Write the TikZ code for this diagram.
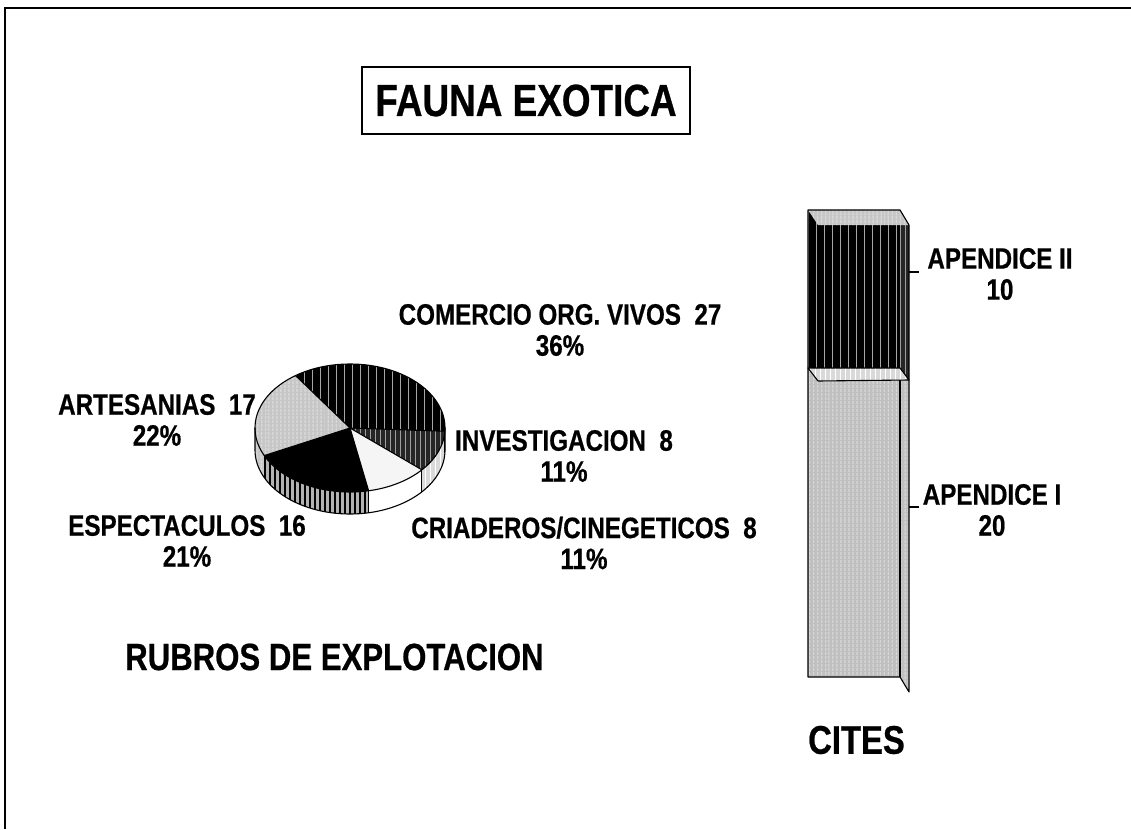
\documentclass[tikz,border=0pt]{standalone}
\usepackage{fontspec}
\newfontfamily\nf{Liberation Sans}[FakeStretch=0.82,FakeBold=0.6]
\usetikzlibrary{patterns.meta}
\begin{document}
\begin{tikzpicture}[x=1pt,y=-1pt,
  lbl/.style={font=\nf\bfseries\fontsize{29.5}{31}\selectfont, align=center, inner sep=0pt},
  big/.style={font=\nf\bfseries\fontsize{38}{42}\selectfont, inner sep=0pt},
  dkA/.style={preaction={fill=black}, pattern={Lines[angle=90,distance=8pt,line width=0.9pt]}, pattern color=gray!70},
  dkB/.style={preaction={fill=black!85}, pattern={Lines[angle=90,distance=5pt,line width=1pt]}, pattern color=gray!75},
  ltA/.style={preaction={fill=gray!45}, pattern={Lines[angle=90,distance=4pt,line width=0.8pt]}, pattern color=white!80!gray},
  ltB/.style={preaction={fill=gray!30}, pattern={Lines[angle=90,distance=5pt,line width=0.8pt]}, pattern color=white},
  barL/.style={preaction={fill=gray!50}, pattern={Lines[angle=90,distance=4pt,line width=0.9pt]}, pattern color=gray!20},
  wlD/.style={preaction={fill=gray!60}, pattern={Lines[angle=90,distance=5pt,line width=1.6pt]}, pattern color=black},
  wht/.style={fill=gray!8},
  edge/.style={line width=1.1pt, line join=round}
]
\useasboundingbox (0,0) rectangle (1131,829);
% outer frame
\draw[line width=1.5pt] (5,829) -- (5,8) -- (1131,8);
% title
\node[draw, line width=1.2pt, minimum width=328pt, minimum height=67pt, inner sep=0pt,
      font=\nf\bfseries\fontsize{45}{50}\selectfont] (title) at (526,100.5) {FAUNA EXOTICA};

% ---------- pie ----------
\coordinate (pc) at (350,428);
% walls (front half)
\path[ltB] (pc) ++(2.9:95 and 64) arc[start angle=2.9,end angle=40.8,x radius=95,y radius=64]
   -- ++(0,22) arc[start angle=40.8,end angle=2.9,x radius=95,y radius=64] -- cycle;
\path[fill=white] (pc) ++(40.8:95 and 64) arc[start angle=40.8,end angle=78.7,x radius=95,y radius=64]
   -- ++(0,22) arc[start angle=78.7,end angle=40.8,x radius=95,y radius=64] -- cycle;
\path[wlD] (pc) ++(78.7:95 and 64) arc[start angle=78.7,end angle=154.5,x radius=95,y radius=64]
   -- ++(0,22) arc[start angle=154.5,end angle=78.7,x radius=95,y radius=64] -- cycle;
\path[ltA] (pc) ++(154.5:95 and 64) arc[start angle=154.5,end angle=180,x radius=95,y radius=64]
   -- ++(0,22) arc[start angle=180,end angle=154.5,x radius=95,y radius=64] -- cycle;
\path[dkA] (pc) ++(0:95 and 64) arc[start angle=0,end angle=2.9,x radius=95,y radius=64]
   -- ++(0,22) arc[start angle=2.9,end angle=0,x radius=95,y radius=64] -- cycle;
% top slices
\path[dkA] (pc) -- ++(-125:95 and 64) arc[start angle=-125,end angle=2.9,x radius=95,y radius=64] -- cycle;
\path[dkB] (pc) -- ++(2.9:95 and 64) arc[start angle=2.9,end angle=40.8,x radius=95,y radius=64] -- cycle;
\path[wht] (pc) -- ++(40.8:95 and 64) arc[start angle=40.8,end angle=78.7,x radius=95,y radius=64] -- cycle;
\path[fill=black] (pc) -- ++(78.7:95 and 64) arc[start angle=78.7,end angle=154.5,x radius=95,y radius=64] -- cycle;
\path[ltA] (pc) -- ++(154.5:95 and 64) arc[start angle=154.5,end angle=235,x radius=95,y radius=64] -- cycle;
% outlines
\draw[edge] (pc) ellipse[x radius=95, y radius=64];
\draw[edge] (pc) ++(180:95 and 64) -- ++(0,22) arc[start angle=180,end angle=0,x radius=95,y radius=64] -- ++(0,-22);
\foreach \a in {-125,2.9,40.8,78.7,154.5} \draw[edge] (pc) -- ++(\a:95 and 64);
\foreach \a in {2.9,40.8,78.7,154.5} \draw[edge] (pc) ++(\a:95 and 64) -- ++(0,22);

% pie labels
\node[lbl] (com) at (560,330) {COMERCIO ORG. VIVOS\ \ 27\\36\%};
\node[lbl] (art) at (157,420) {ARTESANIAS\ \ 17\\22\%};
\node[lbl] (inv) at (564,456) {INVESTIGACION\ \ 8\\11\%};
\node[lbl] (esp) at (187,541) {ESPECTACULOS\ \ 16\\21\%};
\node[lbl] (cri) at (584,543) {CRIADEROS/CINEGETICOS\ \ 8\\11\%};
\node[big, anchor=west] (rub) at (125,657) {RUBROS DE EXPLOTACION};

% ---------- bar ----------
% lower segment
\path[barL] (808,368) rectangle (900,677);
\path[barL] (900,368) -- (909,380) -- (909,692) -- (900,677) -- cycle;
\path[ltB] (808,368) -- (900,368) -- (909,380) -- (818,381) -- cycle;
% upper segment
\path[dkA] (808,210) rectangle (900,368);
\path[dkB] (900,210) -- (909,225) -- (909,380) -- (900,368) -- cycle;
\path[ltA] (808,210) -- (900,210) -- (909,225) -- (818,225) -- cycle;
% bar outlines
\draw[edge] (808,677) -- (808,210) -- (900,210) -- (909,225) -- (909,692) -- (900,677) -- cycle;
\draw[edge] (900,380) -- (900,677);
\draw[edge] (808,368) -- (900,368) -- (909,380) -- (818,381) -- cycle;
\coordinate (t2) at (909,272);
\coordinate (t1) at (909,507);
\draw[edge] (t2) -- ++(10,0) coordinate (t2e);
\draw[edge] (t1) -- ++(10,0) coordinate (t1e);
\node[lbl] (ap2) at (1000,274) {APENDICE II\\10};
\node[lbl] (ap1) at (992,510) {APENDICE I\\20};
\node[font=\nf\bfseries\fontsize{40}{44}\selectfont, inner sep=0pt, anchor=west] (cites) at (808,740) {CITES};
\end{tikzpicture}
\end{document}
